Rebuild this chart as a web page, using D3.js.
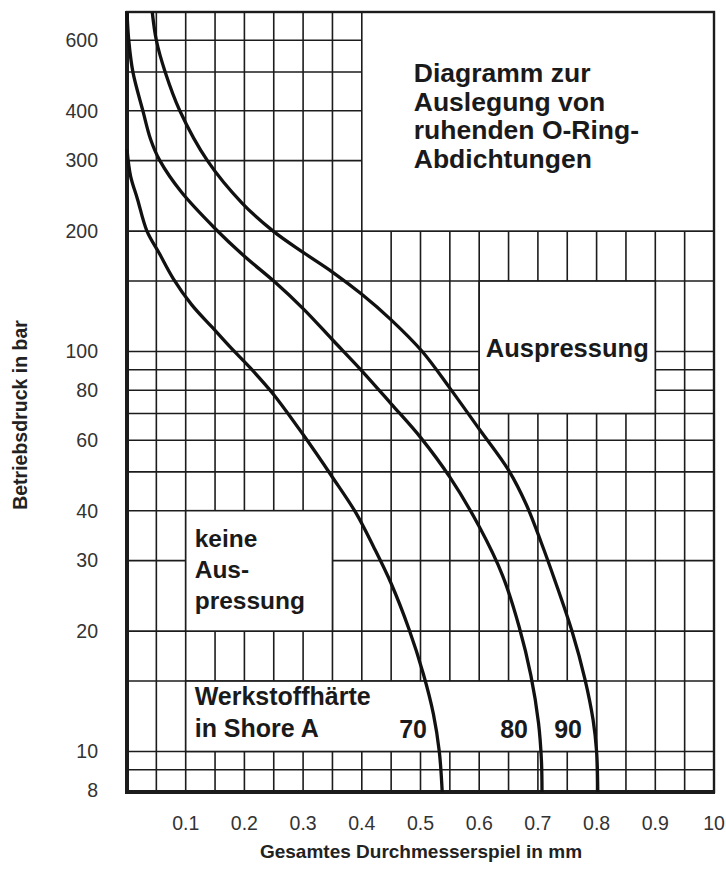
<!DOCTYPE html>
<html><head><meta charset="utf-8">
<script src="https://cdn.jsdelivr.net/npm/d3@7"></script>
<style>
html,body{margin:0;padding:0;background:#fff;}
svg{display:block;font-family:"Liberation Sans",Arial,sans-serif;}
</style></head>
<body><svg id="chart" width="726" height="881"></svg>
<script>
// ---- data ----
const shore70 = [[0.0,320],[0.006,275],[0.018,240],[0.034,200],[0.055,176],[0.079,152],[0.11,131],[0.145,115],[0.176,102.5],[0.21,91],[0.25,78],[0.3,62],[0.35,48.5],[0.39,39.5],[0.42,32.5],[0.45,26.3],[0.48,20.3],[0.505,15.6],[0.522,12.4],[0.532,10],[0.537,7.92]];
const shore80 = [[0.0,706],[0.003,600],[0.01,500],[0.027,400],[0.04,340],[0.056,300],[0.093,250],[0.15,203],[0.2,173],[0.25,150],[0.3,128],[0.35,107],[0.4,89.5],[0.45,74],[0.5,61],[0.55,48.5],[0.6,36.5],[0.64,27.5],[0.668,20.5],[0.688,15.5],[0.701,11.8],[0.706,9.5],[0.707,7.92]];
const shore90 = [[0.043,706],[0.05,600],[0.065,500],[0.09,400],[0.137,300],[0.196,235],[0.249,200],[0.3,177],[0.35,158],[0.4,139],[0.45,120],[0.503,100],[0.55,81],[0.6,64],[0.65,50.5],[0.68,41.5],[0.705,33.5],[0.73,26.5],[0.758,20],[0.78,15.2],[0.794,12],[0.8,10],[0.802,7.92]];
const curveLabels = ["70","80","90"];
const xGrid = [0.05,0.1,0.15,0.2,0.25,0.3,0.35,0.4,0.45,0.5,0.55,0.6,0.65,0.7,0.75,0.8,0.85,0.9,0.95];
const yGrid = [9,10,15,20,30,40,50,60,70,80,90,100,150,200,300,400,500,600];
const xTicks = [0.1,0.2,0.3,0.4,0.5,0.6,0.7,0.8,0.9,1.0];
const xTickLabels = ["0.1","0.2","0.3","0.4","0.5","0.6","0.7","0.8","0.9","10"];
const yTicks = [8,10,20,30,40,60,80,100,200,300,400,600];
// annotation boxes in data units: [x0,x1,p0,p1]
const boxTitle = [0.4,1.0,200,706];
const boxAus = [0.6,0.9,70,150];
const boxKeine = [0.1,0.35,20,40];
const boxWerk = [0.1,0.8,10,15];
const titleLines = ["Diagramm zur","Auslegung von","ruhenden O-Ring-","Abdichtungen"];
const keineLines = ["keine","Aus-","pressung"];
const werkLines = ["Werkstoffhärte","in Shore A"];
const xTitle = "Gesamtes Durchmesserspiel in mm";
const yTitle = "Betriebsdruck in bar";

// ---- scales ----
const svg = d3.select("#chart");
const pMin = 7.92, pMax = 706;
const x = d3.scaleLinear().domain([0,1]).range([127,714]);
const y = d3.scaleLog().domain([pMin,pMax]).range([792,12]);
const ink = "#1c1c1c";

// grid
const g = svg.append("g");
g.selectAll("line.v").data(xGrid).join("line")
  .attr("x1",d=>x(d)).attr("x2",d=>x(d)).attr("y1",y(pMax)).attr("y2",y(pMin))
  .attr("stroke",ink).attr("stroke-width",1.6);
g.selectAll("line.h").data(yGrid).join("line")
  .attr("y1",d=>y(d)).attr("y2",d=>y(d)).attr("x1",x(0)).attr("x2",x(1))
  .attr("stroke",ink).attr("stroke-width",1.6);

// boxes
[boxTitle,boxAus,boxKeine,boxWerk].forEach(b=>{
  g.append("rect").attr("x",x(b[0])).attr("y",y(b[3]))
   .attr("width",x(b[1])-x(b[0])).attr("height",y(b[2])-y(b[3]))
   .attr("fill","#fff").attr("stroke",ink).attr("stroke-width",1.6);
});

// frame
g.append("rect").attr("x",x(0)).attr("y",y(pMax)).attr("width",x(1)-x(0)).attr("height",y(pMin)-y(pMax))
  .attr("fill","none").attr("stroke",ink).attr("stroke-width",2.4);
g.append("line").attr("x1",x(0)).attr("x2",x(0)).attr("y1",y(pMax)-1).attr("y2",y(pMin)+2)
  .attr("stroke",ink).attr("stroke-width",4);
g.append("line").attr("x1",x(0)-2).attr("x2",x(1)+1).attr("y1",y(pMin)).attr("y2",y(pMin))
  .attr("stroke",ink).attr("stroke-width",4);

// curves
const line = d3.line().x(d=>x(d[0])).y(d=>y(d[1])).curve(d3.curveCatmullRom.alpha(0.5));
[shore70,shore80,shore90].forEach(s=>{
  svg.append("path").attr("d",line(s)).attr("fill","none").attr("stroke","#111").attr("stroke-width",3.3);
});

// tick labels
svg.selectAll("text.yt").data(yTicks).join("text")
  .attr("x",98).attr("y",d=>y(d)).attr("dy","0.35em").attr("text-anchor","end")
  .attr("font-size",19.5).attr("fill","#333").text(d=>d);
svg.selectAll("text.xt").data(xTicks).join("text")
  .attr("x",d=>x(d)).attr("y",830).attr("text-anchor","middle")
  .attr("font-size",19.5).attr("fill","#333").text((d,i)=>xTickLabels[i]);

// axis titles
svg.append("text").attr("x",421).attr("y",858).attr("text-anchor","middle")
  .attr("font-size",19).attr("font-weight","bold").attr("fill","#222").text(xTitle);
svg.append("text").attr("transform","translate(27,415) rotate(-90)").attr("text-anchor","middle")
  .attr("font-size",19.5).attr("font-weight","bold").attr("fill","#222").text(yTitle);

// annotation texts
const bold = (sel)=>sel.attr("font-weight","bold").attr("fill","#1a1a1a");
titleLines.forEach((t,i)=>{
  svg.append("text").attr("x",x(boxTitle[0])+52).attr("y",82+i*28.5).attr("font-size",26.5).call(bold).text(t);
});
svg.append("text").attr("x",(x(boxAus[0])+x(boxAus[1]))/2).attr("y",357).attr("text-anchor","middle")
  .attr("font-size",25.5).call(bold).text("Auspressung");
keineLines.forEach((t,i)=>{
  svg.append("text").attr("x",x(boxKeine[0])+9).attr("y",547+i*31).attr("font-size",24.5).call(bold).text(t);
});
werkLines.forEach((t,i)=>{
  svg.append("text").attr("x",x(boxWerk[0])+9).attr("y",705+i*32).attr("font-size",25).call(bold).text(t);
});
const labelRight = [427,528,582];
curveLabels.forEach((t,i)=>{
  svg.append("text").attr("x",labelRight[i]).attr("y",738).attr("text-anchor","end")
    .attr("font-size",25).call(bold).text(t);
});
</script></body></html>
